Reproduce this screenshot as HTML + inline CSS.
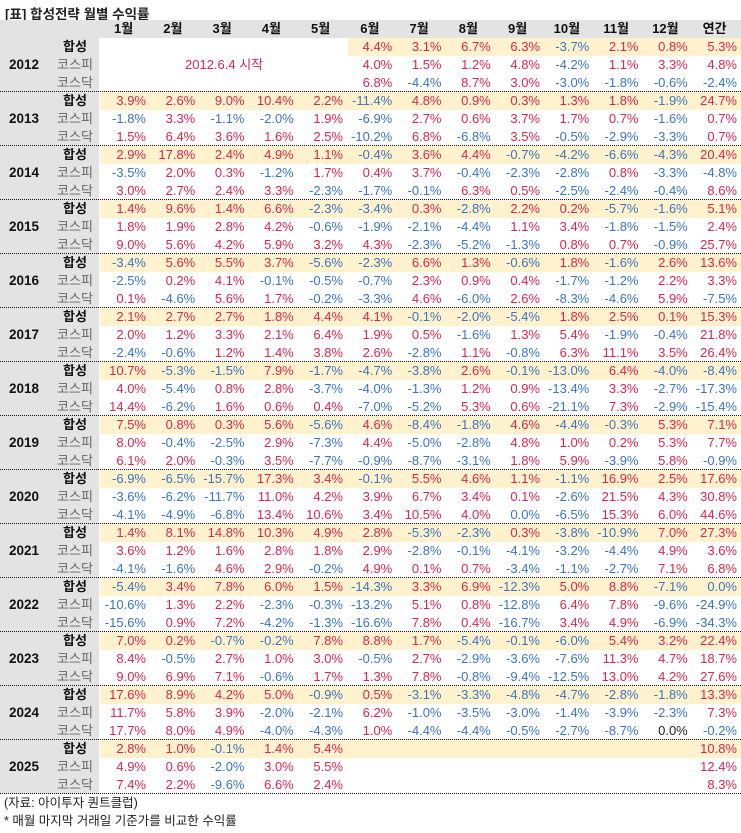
<!DOCTYPE html>
<html><head><meta charset="utf-8">
<style>
body{margin:0;width:741px;height:833px;background:#fff;overflow:hidden;position:relative;font-family:"Liberation Sans","Noto Sans CJK KR",sans-serif;}
.a{position:absolute;white-space:nowrap;}
.n{font-size:13px;text-align:right;width:48px;line-height:18px;}
.pos{color:#d8264e}.neg{color:#3a74c4}.zero{color:#222}
.hl{position:absolute;background:#fff2cc;height:18px;}
.dash{position:absolute;left:0;width:741px;height:0;border-top:1.5px dotted #111;}
.lab{font-size:13px;line-height:18px;width:44px;text-align:center;left:53px;}
</style></head><body>
<div class="a" style="left:5px;top:3px;font-size:13.5px;font-weight:bold;color:#222;">[표] 합성전략 월별 수익률</div>
<div class="a" style="left:0;top:20px;width:741px;height:18px;background:#e3e3e3;"></div>
<div class="a" style="left:0;top:38px;width:99px;height:756px;background:#e3e3e3;"></div>
<div id="tbl"></div>
<div class="a" style="left:185px;top:56px;line-height:18px;font-size:13px;color:#d8264e;">2012.6.4 시작</div>
<div class="a" style="left:4px;top:794px;font-size:12.5px;line-height:18px;color:#222;">(자료: 아이투자 퀀트클럽)</div>
<div class="a" style="left:4px;top:812px;font-size:12.5px;line-height:18px;color:#222;">* 매월 마지막 거래일 기준가를 비교한 수익률</div>
<script>
const headers=["1월","2월","3월","4월","5월","6월","7월","8월","9월","10월","11월","12월","연간"];
const years=[2012,2013,2014,2015,2016,2017,2018,2019,2020,2021,2022,2023,2024,2025];
const rowLabels=["합성","코스피","코스닥"];
const N=null;
const y2012=[[N,N,N,N,N,4.4,3.1,6.7,6.3,-3.7,2.1,0.8,5.3],[N,N,N,N,N,4.0,1.5,1.2,4.8,-4.2,1.1,3.3,4.8],[N,N,N,N,N,6.8,-4.4,8.7,3.0,-3.0,-1.8,-0.6,-2.4]];
const y2013=[[3.9,2.6,9.0,10.4,2.2,-11.4,4.8,0.9,0.3,1.3,1.8,-1.9,24.7],[-1.8,3.3,-1.1,-2.0,1.9,-6.9,2.7,0.6,3.7,1.7,0.7,-1.6,0.7],[1.5,6.4,3.6,1.6,2.5,-10.2,6.8,-6.8,3.5,-0.5,-2.9,-3.3,0.7]];
const y2014=[[2.9,17.8,2.4,4.9,1.1,-0.4,3.6,4.4,-0.7,-4.2,-6.6,-4.3,20.4],[-3.5,2.0,0.3,-1.2,1.7,0.4,3.7,-0.4,-2.3,-2.8,0.8,-3.3,-4.8],[3.0,2.7,2.4,3.3,-2.3,-1.7,-0.1,6.3,0.5,-2.5,-2.4,-0.4,8.6]];
const y2015=[[1.4,9.6,1.4,6.6,-2.3,-3.4,0.3,-2.8,2.2,0.2,-5.7,-1.6,5.1],[1.8,1.9,2.8,4.2,-0.6,-1.9,-2.1,-4.4,1.1,3.4,-1.8,-1.5,2.4],[9.0,5.6,4.2,5.9,3.2,4.3,-2.3,-5.2,-1.3,0.8,0.7,-0.9,25.7]];
const y2016=[[-3.4,5.6,5.5,3.7,-5.6,-2.3,6.6,1.3,-0.6,1.8,-1.6,2.6,13.6],[-2.5,0.2,4.1,-0.1,-0.5,-0.7,2.3,0.9,0.4,-1.7,-1.2,2.2,3.3],[0.1,-4.6,5.6,1.7,-0.2,-3.3,4.6,-6.0,2.6,-8.3,-4.6,5.9,-7.5]];
const y2017=[[2.1,2.7,2.7,1.8,4.4,4.1,-0.1,-2.0,-5.4,1.8,2.5,0.1,15.3],[2.0,1.2,3.3,2.1,6.4,1.9,0.5,-1.6,1.3,5.4,-1.9,-0.4,21.8],[-2.4,-0.6,1.2,1.4,3.8,2.6,-2.8,1.1,-0.8,6.3,11.1,3.5,26.4]];
const y2018=[[10.7,-5.3,-1.5,7.9,-1.7,-4.7,-3.8,2.6,-0.1,-13.0,6.4,-4.0,-8.4],[4.0,-5.4,0.8,2.8,-3.7,-4.0,-1.3,1.2,0.9,-13.4,3.3,-2.7,-17.3],[14.4,-6.2,1.6,0.6,0.4,-7.0,-5.2,5.3,0.6,-21.1,7.3,-2.9,-15.4]];
const y2019=[[7.5,0.8,0.3,5.6,-5.6,4.6,-8.4,-1.8,4.6,-4.4,-0.3,5.3,7.1],[8.0,-0.4,-2.5,2.9,-7.3,4.4,-5.0,-2.8,4.8,1.0,0.2,5.3,7.7],[6.1,2.0,-0.3,3.5,-7.7,-0.9,-8.7,-3.1,1.8,5.9,-3.9,5.8,-0.9]];
const y2020=[[-6.9,-6.5,-15.7,17.3,3.4,-0.1,5.5,4.6,1.1,-1.1,16.9,2.5,17.6],[-3.6,-6.2,-11.7,11.0,4.2,3.9,6.7,3.4,0.1,-2.6,21.5,4.3,30.8],[-4.1,-4.9,-6.8,13.4,10.6,3.4,10.5,4.0,0.0,-6.5,15.3,6.0,44.6]];
const y2021=[[1.4,8.1,14.8,10.3,4.9,2.8,-5.3,-2.3,0.3,-3.8,-10.9,7.0,27.3],[3.6,1.2,1.6,2.8,1.8,2.9,-2.8,-0.1,-4.1,-3.2,-4.4,4.9,3.6],[-4.1,-1.6,4.6,2.9,-0.2,4.9,0.1,0.7,-3.4,-1.1,-2.7,7.1,6.8]];
const y2022=[[-5.4,3.4,7.8,6.0,1.5,-14.3,3.3,6.9,-12.3,5.0,8.8,-7.1,0.0],[-10.6,1.3,2.2,-2.3,-0.3,-13.2,5.1,0.8,-12.8,6.4,7.8,-9.6,-24.9],[-15.6,0.9,7.2,-4.2,-1.3,-16.6,7.8,0.4,-16.7,3.4,4.9,-6.9,-34.3]];
const y2023=[[7.0,0.2,-0.7,-0.2,7.8,8.8,1.7,-5.4,-0.1,-6.0,5.4,3.2,22.4],[8.4,-0.5,2.7,1.0,3.0,-0.5,2.7,-2.9,-3.6,-7.6,11.3,4.7,18.7],[9.0,6.9,7.1,-0.6,1.7,1.3,7.8,-0.8,-9.4,-12.5,13.0,4.2,27.6]];
const y2024=[[17.6,8.9,4.2,5.0,-0.9,0.5,-3.1,-3.3,-4.8,-4.7,-2.8,-1.8,13.3],[11.7,5.8,3.9,-2.0,-2.1,6.2,-1.0,-3.5,-3.0,-1.4,-3.9,-2.3,7.3],[17.7,8.0,4.9,-4.0,-4.3,1.0,-4.4,-4.4,-0.5,-2.7,-8.7,0.0,-0.2]];
const y2025=[[2.8,1.0,-0.1,1.4,5.4,N,N,N,N,N,N,N,10.8],[4.9,0.6,-2.0,3.0,5.5,N,N,N,N,N,N,N,12.4],[7.4,2.2,-9.6,6.6,2.4,N,N,N,N,N,N,N,8.3]];
const allData=[y2012,y2013,y2014,y2015,y2016,y2017,y2018,y2019,y2020,y2021,y2022,y2023,y2024,y2025];

const T=document.getElementById('tbl');
const X0=99,CW=49.25,Y0=38,RH=18,BH=54;
function colRight(i){return X0+47+CW*i;}
function rowTop(b,r){return Y0+b*BH+r*RH;}
headers.forEach((h,i)=>{
  const d=document.createElement('div');
  
  
  d.className='a';
  d.style.cssText=`left:${X0+CW*i}px;top:20px;width:${CW}px;text-align:center;font-size:13px;font-weight:bold;line-height:18px;color:#111;`;
  d.textContent=h;T.appendChild(d);
});
years.forEach((yr,b)=>{
  const data=allData[b];
  const first=data[0].findIndex(v=>v!==null);
  const hl=document.createElement('div');
  
  
  hl.className='hl';
  const hx=X0+CW*first+(first?CW*0.05:1);
  hl.style.cssText=`left:${hx}px;top:${rowTop(b,0)}px;width:${741-hx}px;`;
  T.appendChild(hl);
  const y=document.createElement('div');
  
  
  y.className='a';
  y.style.cssText=`left:9px;top:${rowTop(b,1)}px;line-height:18px;font-size:13.5px;font-weight:bold;color:#111;`;
  y.textContent=yr;T.appendChild(y);
  rowLabels.forEach((lb,r)=>{
    const l=document.createElement('div');
    
    
    l.className='a lab';
    l.style.top=rowTop(b,r)+'px';
    if(r===0){l.style.fontWeight='bold';l.style.color='#111';l.style.left='53px';}
    else l.style.color='#666';
    l.textContent=lb;T.appendChild(l);
    data[r].forEach((v,i)=>{
      if(v===null)return;
      const c=document.createElement('div');
      
      
      let cls=v>0?'pos':'neg';
      if(v===0&&yr===2024)cls='zero';
      c.className='a n '+cls;
      c.style.left=(colRight(i)-48)+'px';
      c.style.top=rowTop(b,r)+'px';
      c.textContent=v.toFixed(1)+'%';
      T.appendChild(c);
    });
  });
  const ds=document.createElement('div');
  
  
  ds.className='dash';
  ds.style.top=(Y0+(b+1)*BH-1)+'px';
  T.appendChild(ds);
});
</script>
</body></html>
